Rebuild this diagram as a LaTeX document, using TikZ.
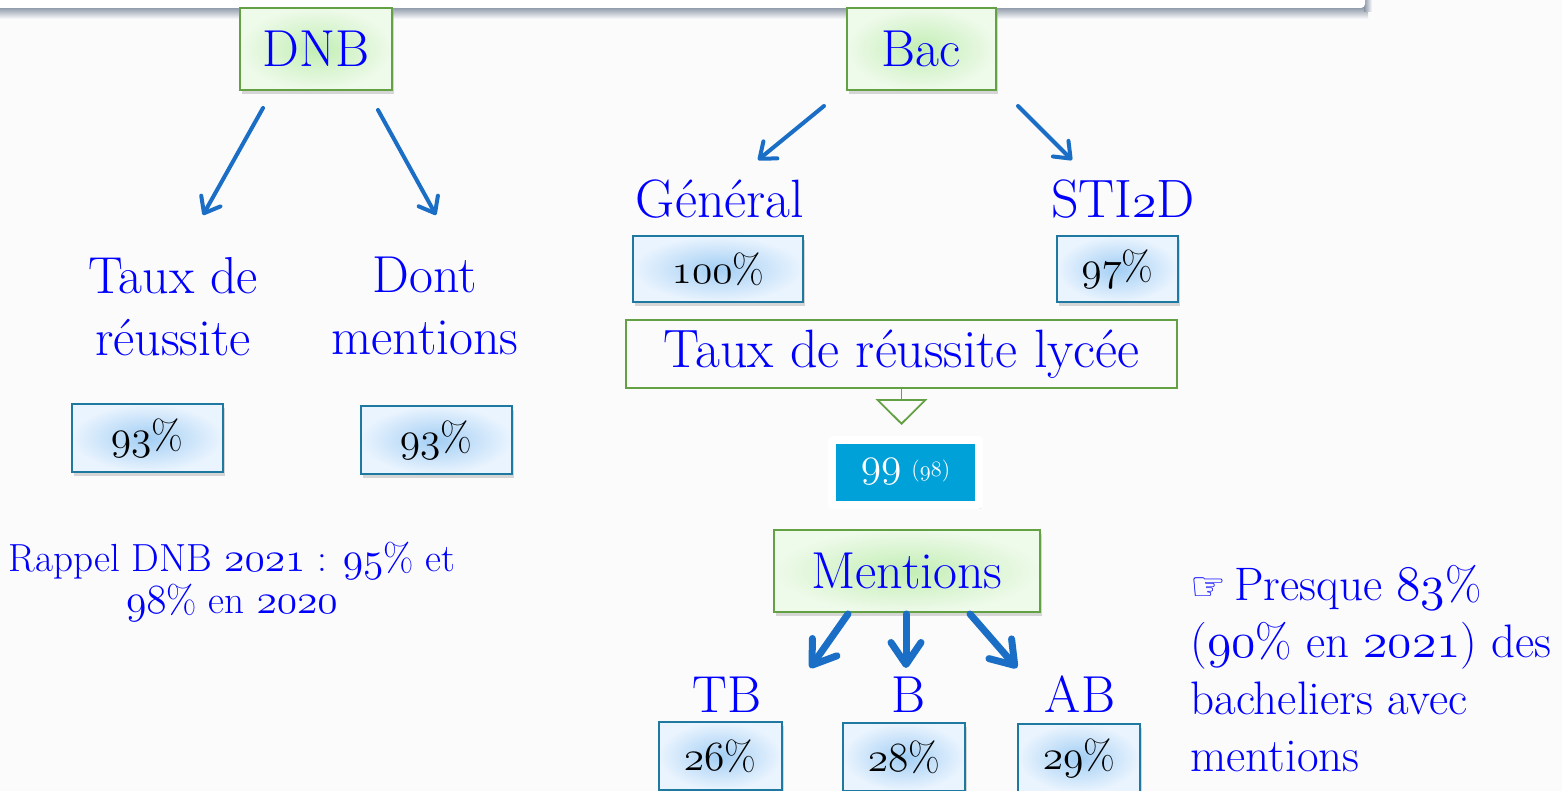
\documentclass[tikz,border=0pt]{standalone}
\usepackage{fontspec}
\newfontfamily\dejavu{DejaVu Sans}
\usetikzlibrary{arrows.meta,shadows}
\definecolor{bg}{HTML}{FBFBFB}
\definecolor{txtblue}{HTML}{0000FF}
\definecolor{arrblue}{HTML}{1A6EC6}
\definecolor{gborder}{HTML}{64A044}
\definecolor{gin}{HTML}{C2EEB4}
\definecolor{gout}{HTML}{EEFAEA}
\definecolor{bborder}{HTML}{1F78A0}
\definecolor{bin}{HTML}{A2CEF4}
\definecolor{bout}{HTML}{EAF4FE}
\definecolor{cyanbox}{HTML}{00A0D8}
\definecolor{bandshadow}{HTML}{8A95A5}
\newcommand\os[1]{{\fontencoding{OML}\fontfamily{lmm}\fontseries{m}\fontshape{it}\selectfont #1}}
\tikzset{
  shad/.style={drop shadow={shadow xshift=1pt, shadow yshift=-2pt, opacity=0.3}},
  gbox/.style={draw=gborder, line width=1pt, inner color=gin, outer color=gout, text=txtblue,
    font=\fontsize{26}{31}\selectfont, inner sep=0pt, shad},
  bbox/.style={draw=bborder, line width=1pt, inner color=bin, outer color=bout, text=black,
    font=\fontsize{20.5}{24}\selectfont, inner sep=0pt, minimum height=34pt, shad},
  lbl/.style={text=txtblue, font=\fontsize{26}{31}\selectfont, inner sep=0pt, align=center},
  arr/.style={draw=arrblue, line width=2pt, line cap=round, -{Straight Barb[round, length=7pt, width=11pt]}},
  bigarr/.style={draw=arrblue, line width=3.5pt, line cap=round, -{Straight Barb[round, length=11pt, width=15pt]}}
}
\begin{document}
\begin{tikzpicture}[x=0.5pt, y=-0.5pt]
\fill[bg] (0,0) rectangle (1562,791);
\useasboundingbox (0,0) rectangle (1562,791);
\shade[top color=bandshadow, bottom color=bg] (0,7) rectangle (1368,19);
\shade[left color=bandshadow, right color=bg] (1364,0) rectangle (1372,12);
\fill[white, rounded corners=2pt] (-10,-10) rectangle (1365,8);

% DNB side
\node[gbox, minimum width=76pt, minimum height=41pt] (dnb) at (316,49) {DNB};
\node[lbl, anchor=north] (tauxd) at (173,257) {Taux de\\réussite};
\node[lbl, anchor=north] (dont) at (425,257) {Dont\\mentions};
\node[bbox, minimum width=75.5pt] (p1) at (147,438) {\os{93}\%};
\node[bbox, minimum width=75.5pt] (p2) at (436,440) {\os{93}\%};
\node[lbl, font=\fontsize{19.6}{21}\selectfont, anchor=north] (rappel) at (232,542)
  {Rappel DNB \os{2021} : \os{95}\% et\\\os{98}\% en \os{2020}};

\coordinate (d1s) at (263,108); \coordinate (d1e) at (203,215);
\coordinate (d2s) at (378,110); \coordinate (d2e) at (436,215);
\draw[arr] (d1s) -- (d1e);
\draw[arr] (d2s) -- (d2e);

% Bac side
\node[gbox, minimum width=74.5pt, minimum height=41pt] (bac) at (921,49) {Bac};
\node[lbl, font=\fontsize{27}{31}\selectfont, anchor=base] (gen) at (720,218) {Général};
\node[lbl, font=\fontsize{27}{31}\selectfont, anchor=base] (sti) at (1123,218) {STI\os{2}D};
\coordinate (b1s) at (824,106); \coordinate (b1e) at (758,160);
\coordinate (b2s) at (1018,106); \coordinate (b2e) at (1072,160);
\draw[arr] (b1s) -- (b1e);
\draw[arr] (b2s) -- (b2e);

\node[bbox, minimum width=85pt, minimum height=33pt] (p100) at (718,269) {\os{100}\%};
\node[bbox, minimum width=60.5pt, minimum height=33pt] (p97) at (1117.5,269) {\os{97}\%};

\node[draw=gborder, line width=0.9pt, minimum width=275.5pt, minimum height=34pt, inner sep=0pt,
  text=txtblue, font=\fontsize{27}{30}\selectfont] (lycee) at (901.5,354) {Taux de réussite lycée};
\coordinate (lyceetip) at (901.5,425);
\draw[gborder, line width=0.9pt, -{Triangle[open, length=13pt, width=26pt]}] (lycee.south) -- (lyceetip);

\node[fill=cyanbox, draw=white, line width=4pt, line join=round, minimum width=73.5pt,
  minimum height=32.5pt, inner sep=0pt, text=white, shad] (res) at (905.5,472)
  {{\fontsize{22}{24}\selectfont\os{99}}\enspace{\fontsize{11}{13}\selectfont (\os{98})}};

\node[gbox, minimum width=133pt, minimum height=41pt] (ment) at (907,571) {Mentions};
\coordinate (m1s) at (848,614); \coordinate (m1e) at (810,668);
\coordinate (m2s) at (906,614); \coordinate (m2e) at (906,668);
\coordinate (m3s) at (970,614); \coordinate (m3e) at (1017,668);
\draw[bigarr] (m1s) -- (m1e);
\draw[bigarr] (m2s) -- (m2e);
\draw[bigarr] (m3s) -- (m3e);

\node[lbl, anchor=base] (tb) at (727,712) {TB};
\node[lbl, anchor=base] (b) at (908,712) {B};
\node[lbl, anchor=base] (ab) at (1080,712) {AB};
\node[bbox, minimum width=61.5pt] (p26) at (720,756) {\os{26}\%};
\node[bbox, minimum width=61pt] (p28) at (904,757) {\os{28}\%};
\node[bbox, minimum width=61pt] (p29) at (1079,758) {\os{29}\%};

\node[lbl, font=\fontsize{23.5}{28.5}\selectfont, align=left, anchor=north west] (note) at (1190,565)
  {{\dejavu\fontsize{20}{20}\selectfont ☞}\,Presque \os{83}\%\\(\os{90}\% en \os{2021}) des\\bacheliers avec\\mentions};
\end{tikzpicture}
\end{document}
